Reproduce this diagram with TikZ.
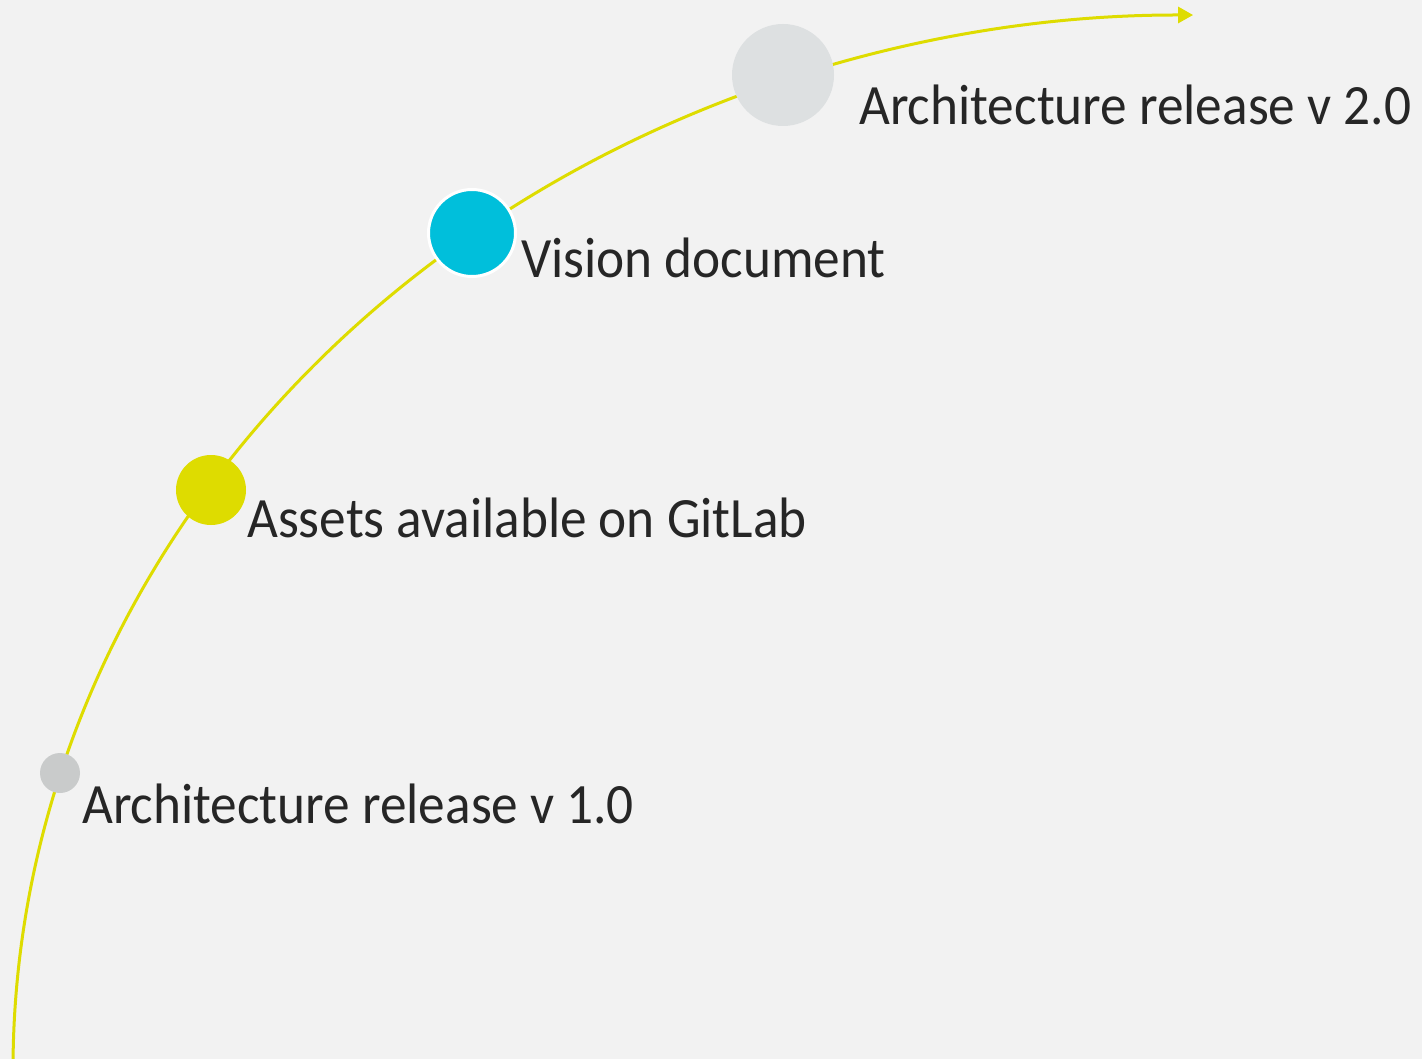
\documentclass[tikz,border=0pt]{standalone}
\usepackage{fontspec}
\setmainfont{Carlito}[FakeStretch=0.935]
\usetikzlibrary{arrows.meta,calc}
\definecolor{bg}{HTML}{F2F2F2}
\definecolor{lineyellow}{HTML}{DEDC00}
\definecolor{dotgrey}{HTML}{C9CBCB}
\definecolor{dotcyan}{HTML}{00BFDB}
\definecolor{dotlight}{HTML}{DDE0E1}
\definecolor{txt}{HTML}{262626}
\tikzset{
  milestone/.style={circle, inner sep=0pt, draw=none},
  label text/.style={anchor=base west, inner sep=0pt, text=txt, font=\fontsize{57}{60}\selectfont},
  timeline/.style={draw=lineyellow, line width=3pt, -{Triangle[length=15pt,width=16pt]}}
}
\begin{document}
\begin{tikzpicture}[x=1pt,y=-1pt]
  \fill[bg] (0,0) rectangle (1422,1059);
  \useasboundingbox (0,0) rectangle (1422,1059);
  \clip (0,0) rectangle (1422,1059);
  \coordinate (ctr) at (1190,1070);
  \path[timeline] (ctr) ++(180:1177 and 1055) coordinate (start) arc[start angle=180, end angle=270.15, x radius=1177, y radius=1055] coordinate (tip);
  \node[milestone, fill=dotgrey, minimum size=40pt] (m1) at (60,773) {};
  \node[milestone, fill=lineyellow, minimum size=70pt] (m2) at (211,490) {};
  \node[milestone, fill=dotcyan, draw=white, line width=3pt, minimum size=87pt] (m3) at (472,233) {};
  \node[milestone, fill=dotlight, minimum size=102pt] (m4) at (783,75) {};
  \node[label text] (t1) at (82,823) {Architecture release v 1.0};
  \node[label text] (t2) at (247,537) {Assets available on GitLab};
  \node[label text] (t3) at (521,278) {Vision document};
  \node[label text] (t4) at (859,125) {Architecture release v 2.0};
\end{tikzpicture}
\end{document}
